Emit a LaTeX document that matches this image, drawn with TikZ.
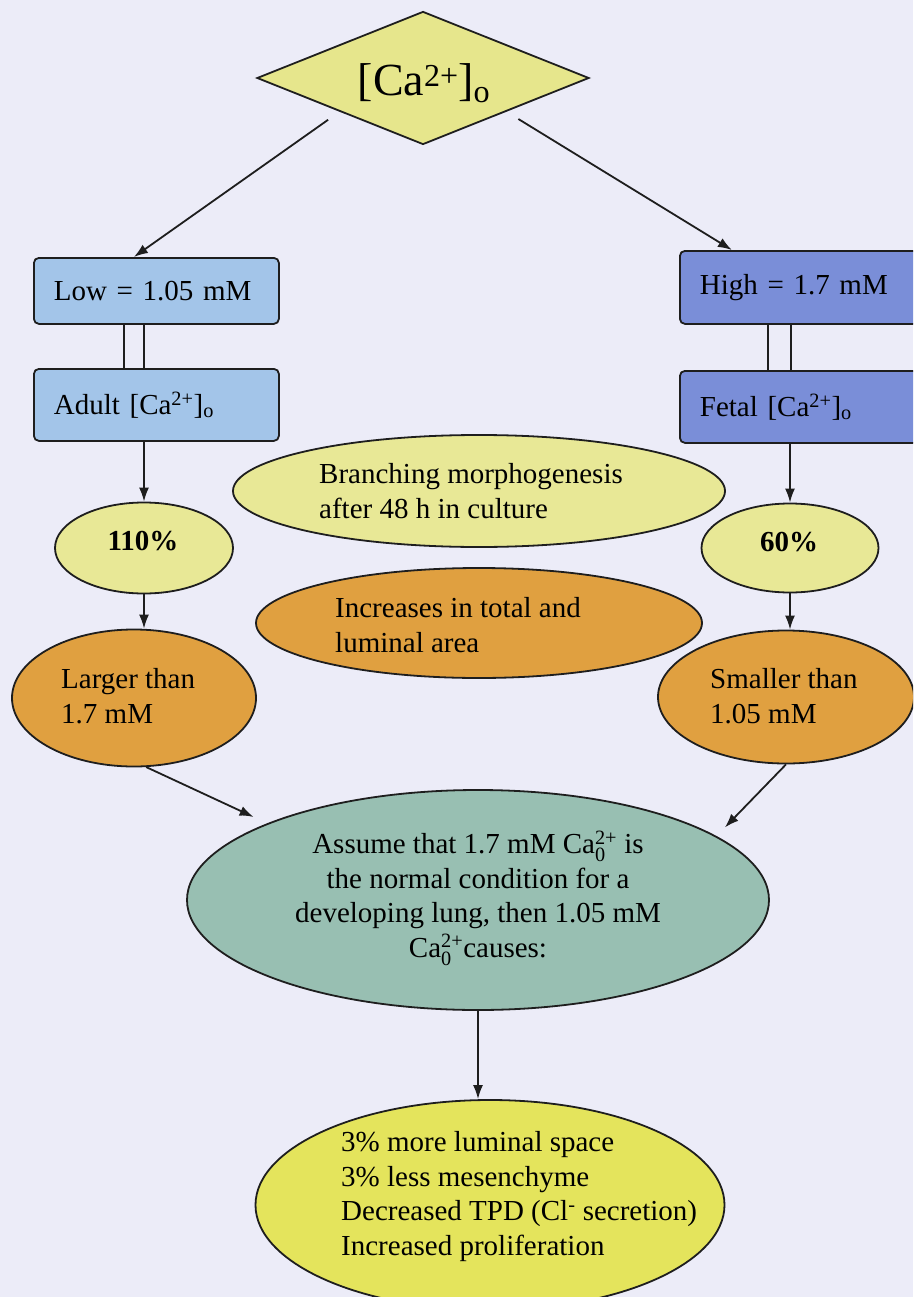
\documentclass[tikz,border=0pt]{standalone}
\usepackage{fontspec}
\setmainfont{Liberation Serif}
\usepackage{amsmath}
\usetikzlibrary{shapes.geometric,arrows.meta,calc}
\definecolor{bg}{HTML}{ECECF8}
\definecolor{lc}{HTML}{1E1E1E}
\definecolor{dia}{HTML}{E6E68C}
\definecolor{lowc}{HTML}{A3C5E9}
\definecolor{highc}{HTML}{7A8ED8}
\definecolor{paley}{HTML}{E8E896}
\definecolor{orng}{HTML}{E0A040}
\definecolor{teal}{HTML}{98BFB2}
\definecolor{yel}{HTML}{E4E45C}
\newcommand{\tsz}{\fontsize{29}{34.5}\selectfont}
\begin{document}
\begin{tikzpicture}[x=1pt,y=-1pt,
  line/.style={draw=lc, line width=2pt},
  arr/.style={draw=lc, line width=1.8pt, -{Latex[length=14pt,width=10pt]}},
  box/.style={draw=lc, line width=1.8pt, rounded corners=5pt, rectangle, inner xsep=20pt, inner ysep=0pt, text width=205pt, align=left, font=\tsz, anchor=north west},
  ell/.style={ellipse, draw=lc, line width=1.8pt, inner sep=0pt},
  txt/.style={font=\tsz, align=left, inner sep=0pt, anchor=base west},
]
\clip (0,0) rectangle (913,1297);
\fill[bg] (0,0) rectangle (913,1297);

% diamond
\node[diamond, draw=lc, line width=1.8pt, fill=dia, minimum width=332pt, minimum height=133pt, inner sep=0pt] (ca) at (423,78) {};
\node[font=\fontsize{46}{54}\selectfont, inner sep=0pt, anchor=base] (tca) at (424,96) {[Ca\raisebox{9pt}{\fontsize{32}{32}\selectfont 2+}]\textsubscript{o}};

% boxes
\node[box, fill=lowc, minimum height=66pt] (low) at (33,257) {Low = 1.05 mM};
\node[box, fill=lowc, minimum height=72pt] (adult) at (33,368) {Adult [Ca\textsuperscript{2+}]\textsubscript{o}};
\node[box, fill=highc, minimum height=73pt] (high) at (679,250) {High = 1.7 mM};
\node[box, fill=highc, minimum height=72pt] (fetal) at (679,370) {Fetal [Ca\textsuperscript{2+}]\textsubscript{o}};

\draw[line] ([xshift=-32.5pt]low.south) -- ([xshift=-32.5pt]adult.north);
\draw[line] ([xshift=-12.5pt]low.south) -- ([xshift=-12.5pt]adult.north);
\draw[line] ([xshift=-34.5pt]high.south) -- ([xshift=-34.5pt]fetal.north);
\draw[line] ([xshift=-11.5pt]high.south) -- ([xshift=-11.5pt]fetal.north);

% ellipses
\node[ell, fill=paley, minimum width=178pt, minimum height=91pt] (e110) at (144,548) {};
\node[ell, fill=paley, minimum width=177pt, minimum height=89pt] (e60) at (790,548) {};
\node[ell, fill=paley, minimum width=492pt, minimum height=112pt] (branch) at (479,491) {};
\node[ell, fill=orng, minimum width=446pt, minimum height=110pt] (incr) at (479,623) {};
\node[ell, fill=orng, minimum width=244pt, minimum height=137pt] (larger) at (134,698) {};
\node[ell, fill=orng, minimum width=256pt, minimum height=133pt] (smaller) at (786,697) {};
\node[ell, fill=teal, minimum width=582pt, minimum height=220pt] (assume) at (478,900) {};
\node[ell, fill=yel, minimum width=469pt, minimum height=210pt] (result) at (490,1205) {};

% texts (base anchor = last line's baseline)
\node[font=\tsz\bfseries, inner sep=0pt, anchor=base] (t110) at (143,550) {110\%};
\node[font=\tsz\bfseries, inner sep=0pt, anchor=base] (t60) at (789,551) {60\%};
\node[txt] (tbranch) at (319,518) {Branching morphogenesis\\after 48 h in culture};
\node[txt] (tincr) at (335,652) {Increases in total and\\luminal area};
\node[txt] (tlarger) at (61,723) {Larger than\\1.7 mM};
\node[txt] (tsmaller) at (710,723) {Smaller than\\1.05 mM};
\node[font=\tsz, align=center, inner sep=0pt, anchor=base] (tassume) at (478,957) {Assume that 1.7 mM Ca$^{\text{2+}}_{\text{0}}$ is\\the normal condition for a\\developing lung, then 1.05 mM\\Ca$^{\text{2+}}_{\text{0}}$causes:};
\node[txt] (tresult) at (341,1255) {3\% more luminal space\\3\% less mesenchyme\\Decreased TPD (Cl\textsuperscript{-} secretion)\\Increased proliferation};

% arrows
\draw[arr, shorten <=14pt] (ca.south west) -- ([xshift=-22.5pt]low.north);
\draw[arr, shorten <=14pt] (ca.south east) -- ([xshift=-70.5pt]high.north);
\draw[arr] (adult.south -| e110.north) -- (e110.north);
\draw[arr] (fetal.south -| e60.north) -- (e60.north);
\draw[arr] (e110.south) -- (e110.south |- larger.north);
\draw[arr] (e60.south) -- (e60.south |- smaller.north);
\draw[arr, shorten >=15pt] (larger.-80) -- (assume.160);
\draw[arr, shorten >=12pt] (smaller.south) -- (assume.15);
\draw[arr] (assume.south) -- (assume.south |- result.north);
\end{tikzpicture}
\end{document}
